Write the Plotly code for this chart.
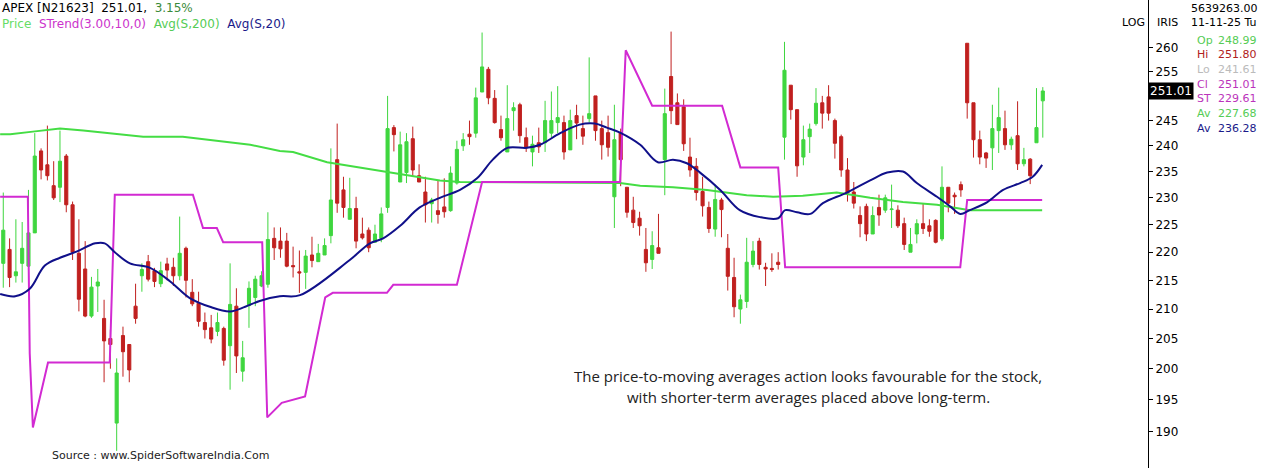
import math
import plotly.graph_objects as go

opens = [218,220.5,215.8,218,217.5,223.5,239,236.3,232.3,232,
         238,228.7,219.8,217,208.8,214,208.4,205,191.3,205.5,
         204,210.5,215.8,218.3,216.7,214.4,217.9,217.3,215.8,220.7,
         212.9,211,207.7,206.8,206.2,206.7,203.8,210.5,199.6,210.6,
         212,214,214.3,222.5,222,222,217.6,216.5,216.4,219.5,
         218.3,219.5,223,237.3,231.5,226,228,223.3,224,221.8,
         222.5,228.2,243.6,233,234.8,241.4,234.2,231.1,228.9,227.6,
         228.3,227.6,232.8,240,242.3,242.5,250.8,255.5,249.5,243.2,
         238.8,247,248.2,241.6,238.8,240.6,240.6,242.5,244.6,244.6,
         239.2,246,243.4,245.4,250,243.4,242.6,230.2,242.6,232,
         227.7,226.2,220.5,218.7,220.8,237.3,254,248.6,247.8,237.8,
         236,231.2,228.2,224.2,229.6,220.7,215.5,210,211.3,217.8,
         222,217.3,217.1,218.2,241.7,252.2,247.2,237.8,241.8,244.4,
         248.6,249.8,245,241.8,235.3,231.1,226.7,228.4,223.3,228.2,
         227.7,227.8,227.7,225.2,220,223.3,225.2,224.8,225.8,222.4,
         232,230.5,232.5,261,248.6,241.2,238.6,239.6,243,243.4,
         240.2,242,236.5,237.4,240.6,248.99]
highs = [231,222.5,226,225.5,231.5,242.5,239.5,244,237,243,
         238.4,229.3,226,222,215.6,217,211.6,206.5,201.7,207,
         204,214.4,218,219.5,217.2,218.3,219,219,226.5,221,
         215.2,213,209.4,209,209.4,207,218,213.6,204.6,214.8,
         215.8,216.6,227.3,224.5,224.5,223.5,221,220.3,220.4,222.8,
         221.5,222.5,239.5,244.4,234,233.8,230.2,226.3,224.5,225,
         228.2,250,244.1,242.8,242.5,243.8,236.4,234,230,233.3,
         233.7,236,241,242.5,245,251.7,263.3,256,251.2,246,
         252.2,248.7,248.6,243.6,242,243.6,249,250.9,252,246,
         247.2,248.2,246,258,250,245,246,248.2,243.4,232,
         230.2,227.4,224.4,223.8,227,251.5,263.5,250.5,249.3,241.6,
         237.6,234,229.3,232.5,230,223.3,219,212.5,222.6,222,
         222.6,218.1,219.8,220,261.3,252.2,247.2,244,244.4,251.6,
         250,252.2,245.4,242.2,237.6,233,228.4,228.9,228.4,230.6,
         230.6,232.5,228.6,226.3,224.4,226,229,226,226,236,
         232,231,233.1,261,248.6,243,238.8,248.2,251.7,247,
         241.8,248.9,239.6,237.6,251.6,251.8]
lows = [213.7,213.8,214.6,214.6,216.8,223.5,233.5,233.3,229.6,229.2,
        227.3,218.6,209.6,208.6,208.5,209.5,197.8,200,187,198.7,
        197.8,207.5,213,214.8,213.8,213.8,215,214,215,212,
        210.5,207,205,204.2,205.4,200.5,196.6,199.3,197.9,206.8,
        210.5,213.8,213.7,218.6,219,217.3,215.5,212.8,213.5,217.3,
        218.3,219.5,221.6,227.2,226.3,226,220.7,222.3,220,221.8,
        221.8,227.2,238.9,233,232.8,234,233,225.4,225.4,225.2,
        226.3,227.4,232.5,239,240.2,241.6,250.8,248.3,244.4,241,
        238.8,243,240.6,238.8,236,238.6,238.8,241.6,242.5,237.3,
        239.2,241.3,240.2,244.6,241,237.3,237.9,224.4,232.2,226.3,
        224.4,223,216.5,217,219.8,230.5,244.3,244.2,239,234,
        229.5,226.5,223.5,222.8,222.7,213.2,208.6,207.5,210.2,217.3,
        216.9,214,216.5,216.9,237.3,245.2,234,236.2,238.6,244,
        243.4,245,237.5,234,229.3,228,222.7,222,223.3,224.8,
        227.2,224.4,224.4,220.4,220,221.6,223.3,222.8,221.6,222,
        227.3,227,230.2,245.4,237.7,236.4,235.7,235.3,238.6,239.2,
        239.2,235.3,236,232.6,240.6,241.61]
closes = [224,215.5,216.5,220.7,223.5,238,235.3,234.2,230,237,
          228.7,220,211.7,208.8,213.8,214.7,204.6,204,199.3,202.8,
          199.8,208.4,216.9,215.2,214.8,216.7,216.8,215.8,219.8,215,
          210.9,207.9,206.5,204.9,207.7,201.4,210.8,202.1,201.8,213.6,
          215.2,215.8,222.3,220.8,220.6,217.5,217.4,216.3,219.3,218.5,
          219.8,221.2,229.6,229,228.2,228,222,222.6,220.8,223.3,
          227,243.4,242.2,240.2,240.8,235.3,233,228.7,229.6,226.9,
          227.4,234.7,239.3,241.2,241.8,249.6,256,249.6,244.6,241.6,
          245.4,247.6,242,239.6,240.3,239.8,245,245,245.6,238.8,
          245,244.5,241.9,246.4,243,240.2,239.7,241.2,237.3,227.3,
          225.4,224.8,218.1,221.2,219.8,246.4,247,244.2,240.4,235.3,
          231,228.5,224.3,229.7,227.8,215.7,210.4,211.6,218.2,220.2,
          217.8,217,216.9,217.8,255.3,247.2,236.1,241.2,243.3,248.5,
          246.5,246.5,240.5,235.3,230.9,229,225.2,223.3,226.7,226.8,
          230,227.9,224.8,221.4,221.4,225.2,224.3,223.8,221.8,232,
          229,230.2,231.5,248.6,241.2,237.8,237.6,243.4,245.6,240.2,
          241.3,236.5,237.3,234.2,243.6,251.01]

sma20_x = [-0.5,1.9,4.2,6.6,9,11.4,14.6,16.1,17.7,20.1,23.3,26.5,29.6,32.8,36,38.4,40.7,43.9,
           47.1,55,58.2,60.3,63,66.1,69.3,72.5,75.2,77.7,80,83.1,85.2,88.4,91.5,93.9,95.8,97.9,
           101.1,103.9,106.3,108.5,110.6,113.8,116.9,120.1,123,124.1,126,128.1,130.1,133.9,137.6,
           140.3,142.8,145,148.2,150.3,151.9,153.4,156.2,158.7,161.4,163.4,164.9]
sma20_y = [212.6,212.2,213.5,217.6,219,220,221.6,221.6,220,218,217.2,214.8,211.9,210.4,209.6,210.4,211.4,212.2,
           212.4,218.6,221.6,222.5,224.8,228.2,230,231.5,233.7,237.3,239.6,239.6,240.2,242.5,244.2,244.4,243.6,242.6,
           240.2,236.8,237.3,236.6,234.8,231.5,227.7,226.4,226.2,227.7,227.3,227,229,231,233.3,
           234.8,235,232.8,230.2,228.4,227,227.7,229.2,231.5,232.8,234,236.28]

sma200_x = [-0.5,1.1,4.7,9,12.7,16.9,22.2,28.5,33.9,39.2,43.9,46,51.4,56.6,61.9,67.2,69.3,72.5,88.4,
            93.1,97.9,101.1,106.3,111.7,114.9,118,122.2,126.9,132.3,137.6,142.8,148.2,153.4,164.9]
sma200_y = [242.3,242.3,242.8,243.4,243,242.5,241.8,241.8,241,240.2,239,238.8,236.8,235.8,234.8,233.7,233.3,233,232.8,
            232.8,232.8,232.3,232,231.5,231,230.5,230.2,230.4,231,230,229.2,228.7,227.7,227.68]

st_x = [-0.5,3.9,4.2,4.7,7.1,16.9,17.7,30.1,31.7,33.9,34.9,41.1,41.9,44.2,47.9,51.1,52.3,60.9,61.9,72,
        76,97.9,98.8,103,114.1,117,123,124.1,151.9,153,164.9]
st_y = [230.2,230.2,202.5,190.6,201,201,230.6,230.6,224.4,224.4,221.8,221.8,192.2,194.5,195.5,212,212.8,212.8,214.2,214.2,
        233,233,259.5,248,248,235.8,235.8,217.3,217.3,229.6,229.61]

ytick_vals = [190,195,200,205,210,215,220,225,230,235,240,245,250,255,260]
ytick_text = ["190","195","200","205","210","215","220","225","230","235","240","245","","255","260"]

GREEN = "#3fd63f"
RED = "#c0201f"
MAG = "#d22ad2"
NAVY = "#10108a"
AVG = "#44dd44"

fig = go.Figure()
fig.add_trace(go.Candlestick(
    x=list(range(len(opens))), open=opens, high=highs, low=lows, close=closes,
    increasing=dict(line=dict(color=GREEN, width=1), fillcolor=GREEN),
    decreasing=dict(line=dict(color=RED, width=1), fillcolor=RED),
    whiskerwidth=0, showlegend=False, hoverinfo="skip"))
fig.add_trace(go.Scatter(x=sma200_x, y=sma200_y, mode="lines", line=dict(color=AVG, width=2), showlegend=False, hoverinfo="skip"))
fig.add_trace(go.Scatter(x=st_x, y=st_y, mode="lines", line=dict(color=MAG, width=2), showlegend=False, hoverinfo="skip"))
fig.add_trace(go.Scatter(x=sma20_x, y=sma20_y, mode="lines", line=dict(color=NAVY, width=2, shape="spline"), showlegend=False, hoverinfo="skip"))

W, H = 1266, 468
axis_px = 1148
fig.update_layout(
    width=W, height=H, margin=dict(l=0, r=0, t=0, b=0, autoexpand=False),
    paper_bgcolor="white", plot_bgcolor="white", hovermode=False,
    font=dict(family="DejaVu Sans", size=11, color="black"),
    xaxis=dict(domain=[0, axis_px / W], range=[-0.52, 181.7], showgrid=False, zeroline=False,
               showticklabels=False, rangeslider=dict(visible=False), fixedrange=True, automargin=False),
    yaxis=dict(type="log", range=[math.log10(184.4), math.log10(270.4)], side="right",
               showgrid=False, zeroline=False, showline=True, linecolor="black", linewidth=1,
               ticks="outside", ticklen=4, tickcolor="black", tickvals=ytick_vals, ticktext=ytick_text,
               tickfont=dict(size=12, family="DejaVu Sans"), anchor="x", automargin=False, fixedrange=True),
)

ann = []
def txt(x, y, t, color="black", size=11, anchor="left", fam="DejaVu Sans"):
    ann.append(dict(x=x / W, y=1 - y / H, xref="paper", yref="paper", text=t, showarrow=False,
                    xanchor=anchor, yanchor="middle", font=dict(color=color, size=size, family=fam)))

txt(0, 8, "APEX [N21623]&nbsp;&nbsp;251.01,&nbsp;&nbsp;<span style='color:#3a8a3a'>3.15%</span>", size=12)
txt(0, 24, "<span style='color:#66dd66'>Price</span>&nbsp;&nbsp;<span style='color:#cc33cc'>STrend(3.00,10,0)</span>&nbsp;&nbsp;"
           "<span style='color:#55cc55'>Avg(S,200)</span>&nbsp;&nbsp;<span style='color:#1a1a8a'>Avg(S,20)</span>", size=12)
txt(1120, 22, "LOG")
txt(1155, 22, "IRIS")
txt(1189, 8, "5639263.00")
txt(1189, 22, "11-11-25 Tu")
rows = [("Op", "248.99", "#55cc55"), ("Hi", "251.80", "#b02020"), ("Lo", "241.61", "#bbbbbb"),
        ("Cl", "251.01", "#bb33bb"), ("ST", "229.61", "#bb33bb"), ("Av", "227.68", "#55cc55"),
        ("Av", "236.28", "#1a1a8a")]
for i, (k, v, c) in enumerate(rows):
    yy = 40 + i * 14.7
    txt(1195, yy, k, c)
    txt(1216, yy, v, c)
txt(808, 376, "The price-to-moving averages action looks favourable for the stock,", "#222222", 15, "center", "Open Sans")
txt(808, 397, "with shorter-term averages placed above long-term.", "#222222", 15, "center", "Open Sans")
txt(50, 455, "Source : www.SpiderSoftwareIndia.Com", "#222222", 11, "left", "DejaVu Sans")
ann.append(dict(x=axis_px / W, y=math.log10(251.01), xref="paper", yref="y", text="251.01", showarrow=False,
                xanchor="left", yanchor="middle", bgcolor="black", font=dict(color="white", size=12),
                borderpad=1))
fig.update_layout(annotations=ann)
fig.write_html("out.html", config={"displayModeBar": False, "staticPlot": True},
               post_script="document.body.style.margin='0';document.body.style.padding='0';document.body.style.overflow='hidden';")
